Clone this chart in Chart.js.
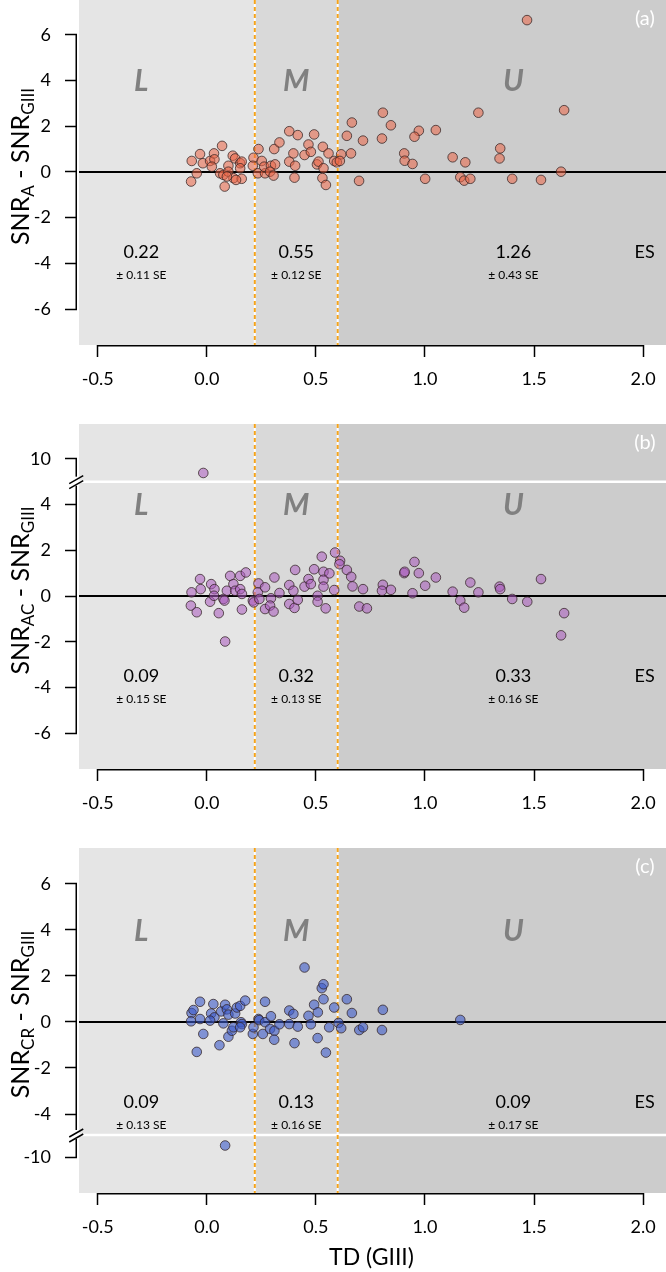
<!DOCTYPE html>
<html>
<head>
<meta charset="utf-8">
<script src="https://cdn.jsdelivr.net/npm/chart.js@4.4.1/dist/chart.umd.min.js"></script>
<style>
  body { margin: 0; background: #fff; }
  .panel { position: relative; width: 666px; height: 424px; }
  canvas { display: block; }
</style>
</head>
<body>
<div class="panel"><canvas id="chartA" width="666" height="424"></canvas></div>
<div class="panel"><canvas id="chartB" width="666" height="424"></canvas></div>
<div class="panel"><canvas id="chartC" width="666" height="424"></canvas></div>
<script>
// ---- data ----
const X_TICKS = [-0.5, 0, 0.5, 1, 1.5, 2];
const X_MIN = -0.595, X_MAX = 2.105;
const ZONE_BOUNDS = [0.22, 0.60];
const ZONE_LABELS = ['L', 'M', 'U'];
const ZONE_LABEL_X = [-0.30, 0.41, 1.405];

const ES_A = ['0.22', '0.55', '1.26'];
const SE_A = ['± 0.11 SE', '± 0.12 SE', '± 0.43 SE'];
const ES_B = ['0.09', '0.32', '0.33'];
const SE_B = ['± 0.15 SE', '± 0.13 SE', '± 0.16 SE'];
const ES_C = ['0.09', '0.13', '0.09'];
const SE_C = ['± 0.13 SE', '± 0.16 SE', '± 0.17 SE'];

const Y_TICKS_A = [-6, -4, -2, 0, 2, 4, 6];
const Y_TICKS_B = [-6, -4, -2, 0, 2, 4];
const Y_TICKS_B_TOP = [10];
const Y_TICKS_C = [-4, -2, 0, 2, 4, 6];
const Y_TICKS_C_BOTTOM = [-10];

const PTS_A = [
  [-0.069,0.48],[-0.031,0.78],[-0.072,-0.42],[-0.046,-0.06],[-0.018,0.38],[0.015,0.48],[0.033,0.81],
  [0.035,0.55],[0.070,1.14],[0.023,0.23],[0.061,-0.06],[0.082,-0.64],[0.076,-0.13],[0.099,0.27],
  [0.119,0.71],[0.130,0.59],[0.099,0.01],[0.122,-0.27],[0.092,-0.20],[0.153,0.38],[0.160,0.45],
  [0.153,0.16],[0.160,-0.30],[0.134,-0.35],[0.214,0.62],[0.211,0.27],[0.237,1.00],[0.252,0.48],
  [0.234,-0.06],[0.267,-0.06],[0.263,0.23],[0.294,0.27],[0.313,0.33],[0.290,0.01],[0.306,-0.16],
  [0.309,1.00],[0.333,1.29],[0.378,1.78],[0.417,1.61],[0.397,0.81],[0.378,0.45],[0.405,0.27],
  [0.402,-0.25],[0.448,0.74],[0.466,1.20],[0.477,0.88],[0.492,1.64],[0.532,1.10],[0.505,0.33],
  [0.512,0.45],[0.535,0.16],[0.530,-0.27],[0.546,-0.57],[0.558,0.81],[0.584,0.48],[0.596,0.42],
  [0.616,0.77],[0.610,0.48],[0.642,1.58],[0.661,0.81],[0.665,2.16],[0.698,-0.39],[0.716,1.37],
  [0.807,2.59],[0.844,2.04],[0.803,1.46],[0.905,0.81],[0.907,0.49],[0.943,0.35],[0.972,1.80],
  [0.952,1.54],[1.001,-0.30],[1.050,1.83],[1.127,0.64],[1.185,0.42],[1.162,-0.23],[1.180,-0.38],
  [1.208,-0.30],[1.245,2.59],[1.345,1.03],[1.342,0.59],[1.400,-0.30],[1.532,-0.35],[1.624,0.01],
  [1.638,2.70],[1.468,6.64]
];

const PTS_B = [
  [-0.070,0.16],[-0.031,0.74],[-0.028,0.30],[-0.073,-0.42],[-0.046,-0.71],[0.020,0.52],[0.035,0.30],
  [0.015,-0.25],[0.033,0.01],[0.055,-0.75],[0.084,-1.99],[0.076,-0.13],[0.092,0.23],[0.081,-0.20],
  [0.107,0.88],[0.122,0.52],[0.130,0.23],[0.153,0.88],[0.153,0.30],[0.161,0.09],[0.179,1.03],
  [0.161,-0.59],[0.211,-0.20],[0.215,-0.28],[0.237,0.55],[0.234,0.16],[0.241,-0.13],[0.267,0.38],
  [0.267,-0.57],[0.294,-0.10],[0.290,-0.42],[0.310,0.81],[0.306,-0.68],[0.333,0.13],[0.378,0.48],
  [0.405,1.14],[0.397,0.23],[0.378,-0.35],[0.402,-0.52],[0.417,-0.17],[0.448,0.41],[0.466,0.74],
  [0.477,0.52],[0.492,1.17],[0.508,0.01],[0.508,-0.25],[0.527,1.72],[0.535,1.06],[0.535,0.71],
  [0.535,0.41],[0.562,0.99],[0.545,-0.54],[0.584,0.26],[0.588,1.90],[0.611,1.54],[0.608,1.39],
  [0.642,1.14],[0.662,0.84],[0.668,0.42],[0.699,-0.46],[0.716,0.30],[0.734,-0.54],[0.807,0.49],
  [0.803,0.23],[0.844,0.27],[0.905,1.00],[0.907,1.06],[0.952,1.49],[0.972,1.00],[1.001,0.45],
  [0.943,0.12],[1.050,0.81],[1.127,0.19],[1.162,-0.20],[1.180,-0.51],[1.208,0.59],[1.245,0.16],
  [1.342,0.41],[1.345,0.30],[1.400,-0.13],[1.469,-0.25],[1.532,0.74],[1.638,-0.75],[1.624,-1.72]
];
const PTS_B_TOP = [[-0.016, 9.38]];

const PTS_C = [
  [-0.070,0.39],[-0.061,0.52],[-0.072,0.03],[-0.031,0.88],[-0.031,0.13],[-0.016,-0.52],[-0.046,-1.30],
  [0.030,0.78],[0.020,0.37],[0.035,0.20],[0.015,0.06],[0.058,-1.01],[0.066,0.46],[0.084,0.75],
  [0.092,0.55],[0.076,-0.06],[0.099,0.32],[0.099,-0.64],[0.115,-0.38],[0.122,-0.23],[0.130,0.37],
  [0.138,0.63],[0.153,0.70],[0.157,-0.01],[0.161,-0.09],[0.153,-0.23],[0.176,0.93],[0.211,-0.52],
  [0.214,-0.23],[0.237,0.13],[0.240,0.08],[0.257,-0.52],[0.267,0.88],[0.267,-0.01],[0.294,0.25],
  [0.290,-0.30],[0.310,-0.38],[0.309,-0.77],[0.333,-0.10],[0.378,0.50],[0.378,-0.09],[0.397,0.35],
  [0.417,-0.20],[0.402,-0.92],[0.448,2.37],[0.466,0.27],[0.477,-0.10],[0.492,0.75],[0.509,0.42],
  [0.508,-0.70],[0.527,1.47],[0.535,1.64],[0.535,0.99],[0.546,-1.33],[0.561,-0.23],[0.584,0.63],
  [0.604,-0.04],[0.616,-0.27],[0.642,0.99],[0.665,0.39],[0.699,-0.35],[0.716,-0.23],[0.807,0.53],
  [0.803,-0.35],[1.162,0.09]
];
const PTS_C_BOTTOM = [[0.084, -9.50]];

// ---- styling ----
const FONT = 'Lato, "DejaVu Sans", sans-serif';
const ZONE_FILLS = ['#e5e5e5', '#d9d9d9', '#cccccc'];
const DASH_COLOR = '#f5a31a';

const toXY = arr => arr.map(([x, y]) => ({ x, y }));

function noPad(s) {
  s.paddingTop = 0; s.paddingBottom = 0; s.paddingLeft = 0; s.paddingRight = 0;
}

function xScale() {
  return {
    type: 'linear', min: X_MIN, max: X_MAX,
    afterBuildTicks: s => { s.ticks = X_TICKS.map(v => ({ value: v })); },
    afterFit: s => { s.height = 79; noPad(s); },
    grid: { drawOnChartArea: false, drawTicks: true, tickLength: 12, tickColor: '#000', tickWidth: 1.5 },
    border: { display: false },
    ticks: { color: '#000', font: { family: FONT, size: 18 }, padding: 11, callback: v => v.toFixed(1) },
  };
}

function yScale(min, max, ticks, extra) {
  return Object.assign({
    type: 'linear', position: 'left', min, max,
    afterBuildTicks: s => { s.ticks = ticks.map(v => ({ value: v })); },
    afterFit: s => { s.width = 77; noPad(s); },
    grid: { drawOnChartArea: false, drawTicks: true, tickLength: 12, tickColor: '#000', tickWidth: 1.5 },
    border: { display: false },
    ticks: { color: '#000', font: { family: FONT, size: 18 }, padding: 14, callback: v => String(v) },
  }, extra || {});
}

function dataset(points, fill, axis) {
  return {
    data: toXY(points),
    yAxisID: axis || 'y',
    pointRadius: 4.8,
    pointHoverRadius: 4.8,
    backgroundColor: fill,
    borderColor: 'rgba(50,35,35,0.75)',
    borderWidth: 1,
  };
}

// draws a label with subscript parts, rotated
function drawYLabel(ctx, cx, cy, parts) {
  const big = '25px ' + FONT, small = '17px ' + FONT;
  let total = 0;
  parts.forEach(([t, sub]) => { ctx.font = sub ? small : big; total += ctx.measureText(t).width; });
  ctx.save();
  ctx.translate(cx, cy);
  ctx.rotate(-Math.PI / 2);
  ctx.fillStyle = '#000';
  ctx.textBaseline = 'alphabetic';
  ctx.textAlign = 'left';
  let x = -total / 2;
  parts.forEach(([t, sub]) => {
    ctx.font = sub ? small : big;
    ctx.fillText(t, x, sub ? 14 : 9);
    x += ctx.measureText(t).width;
  });
  ctx.restore();
}

function decorPlugin(opts) {
  return {
    id: 'decor',
    beforeDatasetsDraw(chart) {
      const { ctx, chartArea: ca, scales } = chart;
      const xs = scales.x, ys = scales.y;
      const bx = ZONE_BOUNDS.map(v => xs.getPixelForValue(v));
      const edges = [ca.left + 2, bx[0], bx[1], ca.right];
      ctx.save();
      for (let i = 0; i < 3; i++) {
        ctx.fillStyle = ZONE_FILLS[i];
        ctx.fillRect(edges[i], ca.top, edges[i + 1] - edges[i], ca.bottom - ca.top);
      }
      // break line
      if (opts.breakAxis) {
        const yb = opts.breakAxis === 'y' ? ys.top : ys.bottom;
        ctx.strokeStyle = '#fff';
        ctx.lineWidth = 2.5;
        ctx.beginPath();
        ctx.moveTo(ca.left + 2, yb);
        ctx.lineTo(ca.right, yb);
        ctx.stroke();
      }
      // zone boundaries
      bx.forEach(px => {
        ctx.setLineDash([]);
        ctx.strokeStyle = '#fff';
        ctx.lineWidth = 2;
        ctx.beginPath(); ctx.moveTo(px, ca.top); ctx.lineTo(px, ca.bottom); ctx.stroke();
        ctx.setLineDash([4, 3]);
        ctx.strokeStyle = DASH_COLOR;
        ctx.beginPath(); ctx.moveTo(px, ca.top); ctx.lineTo(px, ca.bottom); ctx.stroke();
      });
      ctx.setLineDash([]);
      // zero line
      const y0 = ys.getPixelForValue(0);
      ctx.strokeStyle = '#000';
      ctx.lineWidth = 2;
      ctx.beginPath(); ctx.moveTo(ca.left + 2, y0); ctx.lineTo(ca.right, y0); ctx.stroke();
      // zone letters and ES values
      ctx.textAlign = 'center';
      ctx.textBaseline = 'middle';
      ZONE_LABELS.forEach((t, i) => {
        const px = xs.getPixelForValue(ZONE_LABEL_X[i]);
        ctx.fillStyle = '#808080';
        ctx.font = 'italic bold 30px ' + FONT;
        ctx.fillText(t, px, ys.getPixelForValue(3.95));
        ctx.fillStyle = '#000';
        ctx.font = '18px ' + FONT;
        ctx.fillText(opts.es[i], px, ys.getPixelForValue(-3.5));
        ctx.font = '12px ' + FONT;
        ctx.fillText(opts.se[i], px, ys.getPixelForValue(-4.5));
      });
      ctx.font = '18px ' + FONT;
      ctx.fillText('ES', xs.getPixelForValue(2.007), ys.getPixelForValue(-3.5));
      ctx.fillStyle = '#fff';
      ctx.font = '20px ' + FONT;
      ctx.fillText(opts.tag, xs.getPixelForValue(2.008), ca.top + 19);
      ctx.restore();
    },
    afterDraw(chart) {
      const { ctx, chartArea: ca, scales } = chart;
      const xs = scales.x;
      ctx.save();
      ctx.strokeStyle = '#000';
      ctx.lineWidth = 1.5;
      // x axis line over tick range
      ctx.beginPath();
      ctx.moveTo(xs.getPixelForValue(X_TICKS[0]) - 0.75, ca.bottom + 0.75);
      ctx.lineTo(xs.getPixelForValue(X_TICKS[X_TICKS.length - 1]) + 0.75, ca.bottom + 0.75);
      ctx.stroke();
      // y axis line over tick range
      const ax = ca.left - 0.75;
      const yTop = opts.axisTop(scales), yBot = opts.axisBottom(scales);
      ctx.beginPath();
      ctx.moveTo(ax, yTop - 0.75);
      ctx.lineTo(ax, yBot + 0.75);
      ctx.stroke();
      if (opts.breakAxis) {
        const yb = opts.breakAxis === 'y' ? scales.y.top : scales.y.bottom;
        ctx.fillStyle = '#fff';
        ctx.fillRect(ax - 3, yb - 5, 6, 9);
        ctx.beginPath();
        ctx.moveTo(ax - 7, yb + 2); ctx.lineTo(ax + 7, yb - 6);
        ctx.moveTo(ax - 7, yb + 7); ctx.lineTo(ax + 7, yb - 1);
        ctx.stroke();
      }
      drawYLabel(ctx, 20, (ca.top + ca.bottom) / 2 - 6, opts.ylabel);
      if (opts.xtitle) {
        ctx.fillStyle = '#000';
        ctx.font = '23px ' + FONT;
        ctx.textAlign = 'center';
        ctx.textBaseline = 'middle';
        ctx.fillText(opts.xtitle, (ca.left + ca.right) / 2, 410);
      }
      ctx.restore();
    },
  };
}

function makeChart(id, datasets, scales, opts) {
  return new Chart(document.getElementById(id), {
    type: 'scatter',
    data: { datasets },
    options: {
      responsive: false,
      animation: false,
      layout: { padding: 0, autoPadding: false },
      plugins: { legend: { display: false }, tooltip: { enabled: false } },
      scales,
    },
    plugins: [decorPlugin(opts)],
  });
}

// (a)
makeChart('chartA',
  [dataset(PTS_A, 'rgba(235,100,70,0.55)')],
  { x: xScale(), y: yScale(-7.57, 7.52, Y_TICKS_A) },
  {
    es: ES_A, se: SE_A, tag: '(a)',
    ylabel: [['SNR', 0], ['A', 1], [' - SNR', 0], ['GIII', 1]],
    axisTop: s => s.y.getPixelForValue(6), axisBottom: s => s.y.getPixelForValue(-6),
  });

// (b) broken axis: upper part holds the single large value
makeChart('chartB',
  [dataset(PTS_B, 'rgba(170,90,190,0.55)'), dataset(PTS_B_TOP, 'rgba(170,90,190,0.55)', 'y2')],
  {
    x: xScale(),
    y: yScale(-7.565, 5.0, Y_TICKS_B, { stack: 'b', stackWeight: 289 }),
    y2: yScale(9.0, 11.52, Y_TICKS_B_TOP, { stack: 'b', stackWeight: 58 }),
  },
  {
    es: ES_B, se: SE_B, tag: '(b)', breakAxis: 'y',
    ylabel: [['SNR', 0], ['AC', 1], [' - SNR', 0], ['GIII', 1]],
    axisTop: s => s.y2.getPixelForValue(10), axisBottom: s => s.y.getPixelForValue(-6),
  });

// (c) broken axis: lower part holds the single large negative value
makeChart('chartC',
  [dataset(PTS_C, 'rgba(60,90,200,0.6)'), dataset(PTS_C_BOTTOM, 'rgba(60,90,200,0.6)', 'y2')],
  {
    x: xScale(),
    y2: yScale(-11.565, -9.043, Y_TICKS_C_BOTTOM, { stack: 'c', stackWeight: 58 }),
    y: yScale(-4.913, 7.565, Y_TICKS_C, { stack: 'c', stackWeight: 287 }),
  },
  {
    es: ES_C, se: SE_C, tag: '(c)', breakAxis: 'yb', xtitle: 'TD (GIII)',
    ylabel: [['SNR', 0], ['CR', 1], [' - SNR', 0], ['GIII', 1]],
    axisTop: s => s.y.getPixelForValue(6), axisBottom: s => s.y2.getPixelForValue(-10),
  });
</script>
</body>
</html>
